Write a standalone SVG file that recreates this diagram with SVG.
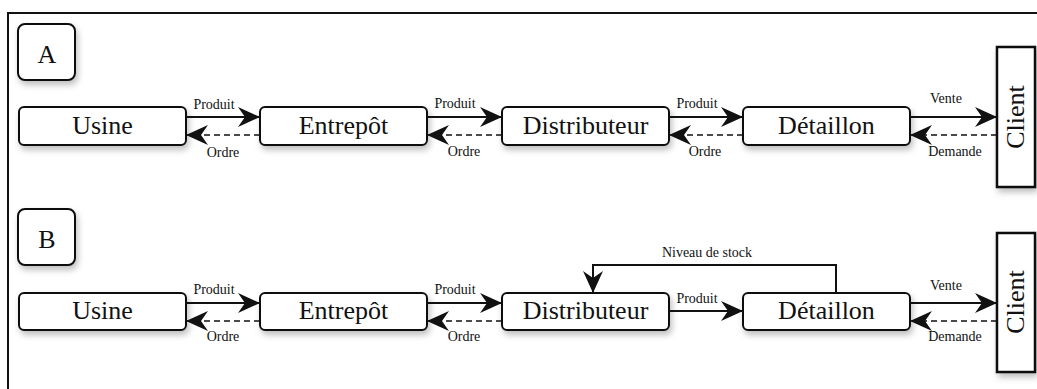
<svg xmlns="http://www.w3.org/2000/svg" width="1037" height="389" viewBox="0 0 1037 389">
<style>
.box{fill:#fff;stroke:#111;stroke-width:2;filter:url(#sh)}
.cl{fill:#fff;stroke:#111;stroke-width:2.5;filter:url(#sh)}
.big{font-family:"Liberation Serif",serif;font-size:26px;fill:#111;text-anchor:middle}
.lbl{font-family:"Liberation Serif",serif;font-size:14px;fill:#111;text-anchor:middle}
.ln{fill:none;stroke:#111;stroke-width:2;marker-end:url(#ah)}
.ds{fill:none;stroke:#111;stroke-width:1.6;stroke-dasharray:6 4;marker-end:url(#ah)}
</style>
<defs>
<filter id="sh" x="-20%" y="-40%" width="140%" height="190%">
<feDropShadow dx="2" dy="4" stdDeviation="3" flood-color="#000" flood-opacity="0.25"/>
</filter>
<marker id="ah" markerUnits="userSpaceOnUse" markerWidth="26" markerHeight="24" viewBox="-24 -12 26 24" refX="0" refY="0" orient="auto">
<path d="M0,0 L-22,-10 L-15,0 L-22,10 Z" fill="#111"/>
</marker>
</defs>
<rect width="1037" height="389" fill="#fff"/>
<path d="M8,389 V13 H1037" fill="none" stroke="#111" stroke-width="2"/>

<g id="labelA"><rect class="box" x="18" y="24" width="57" height="56" rx="7"/><text class="big" x="47" y="63">A</text></g>
<g id="usineA"><rect class="box" x="19" y="107" width="167" height="38" rx="5"/><text class="big" x="102.5" y="134">Usine</text></g>
<g id="entrepotA"><rect class="box" x="260" y="107" width="167" height="38" rx="5"/><text class="big" x="343.5" y="134">Entrepôt</text></g>
<g id="distribA"><rect class="box" x="502" y="107" width="167" height="38" rx="5"/><text class="big" x="585.5" y="134">Distributeur</text></g>
<g id="detailA"><rect class="box" x="743" y="107" width="167" height="38" rx="5"/><text class="big" x="826.5" y="134">Détaillon</text></g>
<g id="clientA"><rect class="cl" x="997" y="47" width="38" height="140"/><text class="big" transform="translate(1024,117) rotate(-90)">Client</text></g>

<g id="labelB"><rect class="box" x="18" y="209" width="57" height="56" rx="7"/><text class="big" x="47" y="248">B</text></g>
<g id="usineB"><rect class="box" x="19" y="293" width="167" height="37" rx="5"/><text class="big" x="102.5" y="319">Usine</text></g>
<g id="entrepotB"><rect class="box" x="260" y="293" width="167" height="37" rx="5"/><text class="big" x="343.5" y="319">Entrepôt</text></g>
<g id="distribB"><rect class="box" x="502" y="293" width="167" height="37" rx="5"/><text class="big" x="585.5" y="319">Distributeur</text></g>
<g id="detailB"><rect class="box" x="743" y="293" width="167" height="37" rx="5"/><text class="big" x="826.5" y="319">Détaillon</text></g>
<g id="clientB"><rect class="cl" x="997" y="233" width="38" height="139"/><text class="big" transform="translate(1024,302) rotate(-90)">Client</text></g>

<g id="connectors">
<path class="ln" d="M186,117 H260"/>
<path class="ds" d="M260,135 H186"/>
<path class="ln" d="M427,117 H502"/>
<path class="ds" d="M502,135 H427"/>
<path class="ln" d="M669,117 H743"/>
<path class="ds" d="M743,135 H669"/>
<path class="ln" d="M910,117 H997"/>
<path class="ds" d="M997,135 H910"/>
<text class="lbl" x="214" y="109">Produit</text>
<text class="lbl" x="223" y="157">Ordre</text>
<text class="lbl" x="455" y="108">Produit</text>
<text class="lbl" x="464" y="156">Ordre</text>
<text class="lbl" x="697" y="108">Produit</text>
<text class="lbl" x="705" y="156">Ordre</text>
<text class="lbl" x="946" y="103">Vente</text>
<text class="lbl" x="955" y="156">Demande</text>

<path class="ln" d="M186,303 H260"/>
<path class="ds" d="M260,321 H186"/>
<path class="ln" d="M427,303 H502"/>
<path class="ds" d="M502,321 H427"/>
<path class="ln" d="M669,311 H743"/>
<path class="ln" d="M836,293 V265 H593 V293"/>
<path class="ln" d="M910,303 H997"/>
<path class="ds" d="M997,321 H910"/>
<text class="lbl" x="214" y="294">Produit</text>
<text class="lbl" x="223" y="341">Ordre</text>
<text class="lbl" x="455" y="294">Produit</text>
<text class="lbl" x="464" y="341">Ordre</text>
<text class="lbl" x="697" y="303">Produit</text>
<text class="lbl" x="707" y="257">Niveau de stock</text>
<text class="lbl" x="946" y="290">Vente</text>
<text class="lbl" x="955" y="341">Demande</text>
</g>
</svg>
